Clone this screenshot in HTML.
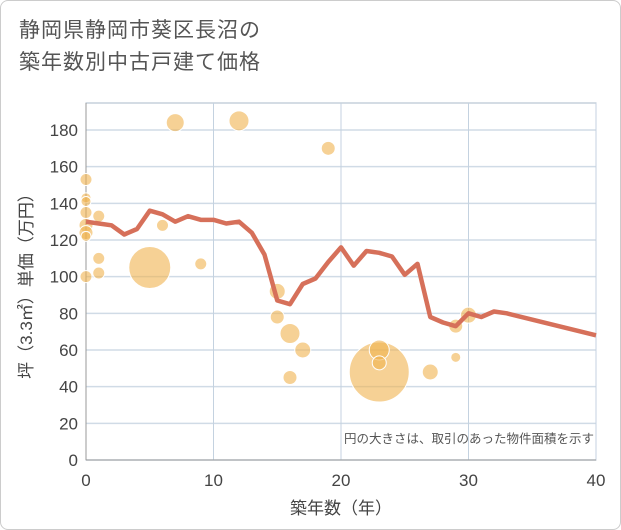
<!DOCTYPE html>
<html><head><meta charset="utf-8"><style>
body{margin:0;background:#fff;font-family:"Liberation Sans","Noto Sans CJK JP",sans-serif}
#wrap{position:relative;width:619px;height:528px;border:1px solid #ccc;border-radius:8px;overflow:hidden}
.title{position:absolute;left:18px;top:14px;font-size:21px;line-height:32px;color:#555;letter-spacing:1px}
</style></head><body>
<div id="wrap">
<div class="title">静岡県静岡市葵区長沼の<br>築年数別中古戸建て価格</div>
<svg id="c" width="621" height="530" style="position:absolute;left:-1px;top:-1px"></svg>
</div>
<script>
const lineYears=[0,1,2,3,4,5,6,7,8,9,10,11,12,13,14,15,16,17,18,19,20,21,22,23,24,25,26,27,28,29,30,31,32,33,40];
const lineValues=[130,129,128,123,126,136,134,130,133,131,131,129,130,124,112,87,85,96,99,108,116,106,114,113,111,101,107,78,75,73,80,78,81,80,68];
const bubbleYears=[0,0,0,0,0,0,0,1,0,1,1,5,6,7,9,12,19,15,15,16,17,16,23,23,23,27,29,29,30];
const bubbleValues=[153,143,141,135,128,124,122,133,100,110,102,105,128,184,107,185,170,92,78,69,60,45,48,60,53,48,73,56,79];
const bubbleSizes=[6,5,5,6,7,7,5,6,6,6,6,21,6,9,6,10,7,8,7,10,8,7,30,10,7,8,7,5,8];
const xTicks=[0,10,20,30,40];
const yTicks=[0,20,40,60,80,100,120,140,160,180];
const L=86,R=596,T=103,B=460;
const xs=v=>L+(R-L)*v/40, ys=v=>B-(B-130)*v/180;
const svg=document.getElementById('c'),NS='http://www.w3.org/2000/svg';
function mk(t,a,p){const e=document.createElementNS(NS,t);for(const k in a)e.setAttribute(k,a[k]);(p||svg).appendChild(e);return e;}
let e=mk('rect',{x:L,y:T,width:R-L,height:B-T,fill:'none',stroke:'#aab8c8'});


yTicks.forEach(v=>{
 const g=mk('line',{x1:L,x2:R,y1:ys(v),y2:ys(v),stroke:'#d0dbe6','stroke-width':1.5});
 
 
 const t=mk('text',{x:L-8,y:ys(v)+6,'text-anchor':'end','font-size':17,fill:'#444'});t.textContent=v;
 
 
});
xTicks.forEach(v=>{
 const g=mk('line',{x1:xs(v),x2:xs(v),y1:T,y2:B,stroke:'#c4d2e0','stroke-width':1});
 
 
 const t=mk('text',{x:xs(v),y:B+26,'text-anchor':'middle','font-size':17,fill:'#444'});t.textContent=v;
 
 
});
mk('line',{x1:L,x2:L,y1:T,y2:B,stroke:'#999'});
mk('line',{x1:L,x2:R,y1:B,y2:B,stroke:'#999'});
bubbleYears.forEach((y,i)=>{
 const c=mk('circle',{cx:xs(y),cy:ys(bubbleValues[i]),r:bubbleSizes[i],fill:'#f0b34f','fill-opacity':0.6,stroke:'#fff','stroke-width':1});
 
 
});
const pl=mk('polyline',{points:lineYears.map((y,i)=>xs(y)+','+ys(lineValues[i])).join(' '),fill:'none',stroke:'#d6705a','stroke-width':4.5,'stroke-linejoin':'round'});


let t=mk('text',{x:594,y:443,'text-anchor':'end','font-size':12.5,fill:'#555'});t.textContent='円の大きさは、取引のあった物件面積を示す';


t=mk('text',{x:341,y:514,'text-anchor':'middle','font-size':17,fill:'#444'});t.textContent='築年数（年）';


t=mk('text',{x:0,y:0,'text-anchor':'middle','font-size':17,fill:'#444',transform:'translate(32,282) rotate(-90)'});t.textContent='坪（3.3㎡）単価（万円）';


</script>
</body></html>
